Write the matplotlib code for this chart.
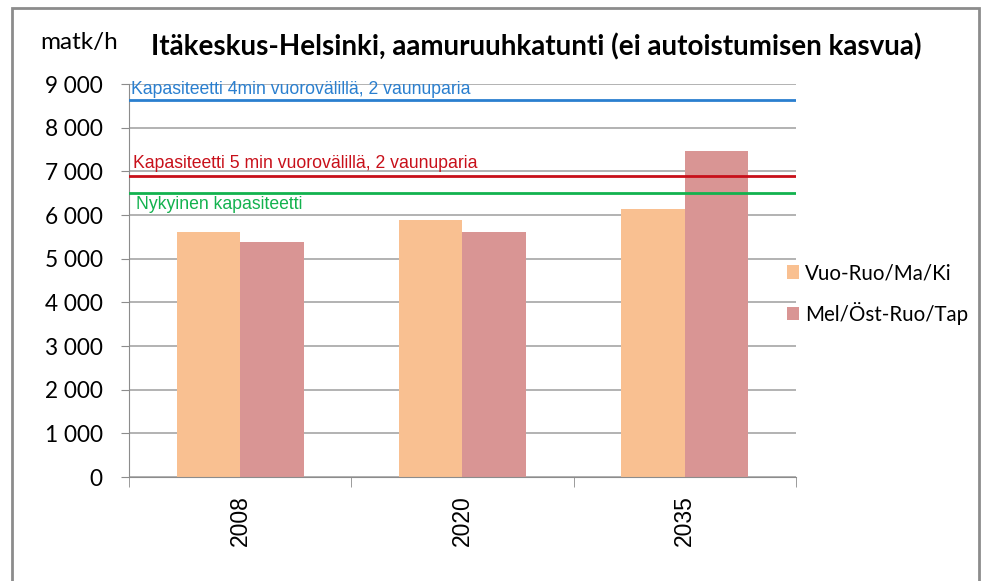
import matplotlib
matplotlib.use("Agg")
from matplotlib import pyplot as plt
from matplotlib.patches import Rectangle
import numpy as np

years = ["2008", "2020", "2035"]
vuo_ruo = [5610, 5880, 6140]
mel_ost = [5380, 5610, 7470]
series_names = ["Vuo-Ruo/Ma/Ki", "Mel/Öst-Ruo/Tap"]

cap_values = [8630, 6900, 6500]
cap_labels = ["Kapasiteetti 4min vuorovälillä, 2 vaunuparia",
              "Kapasiteetti 5 min vuorovälillä, 2 vaunuparia",
              "Nykyinen kapasiteetti"]
cap_colors = ["#2A7FCF", "#C8101A", "#12B24E"]

yticks = np.arange(0, 9001, 1000)
ytick_labels = ["0"] + ["{} 000".format(v // 1000) for v in yticks[1:]]

title = "Itäkeskus-Helsinki, aamuruuhkatunti (ei autoistumisen kasvua)"
ylabel = "matk/h"

calibri_like = ["Lato", "DejaVu Sans"]
arial_like = ["Liberation Sans", "DejaVu Sans"]

fig = plt.figure(figsize=(9.95, 5.81), dpi=100)
ax = fig.add_axes([0.1296, 0.179, 0.8 - 0.1296, 0.8554 - 0.179])

# outer frame like the excel chart area
fig.patches.append(Rectangle((0.012, -0.01), 0.984 - 0.012, 0.986 + 0.01,
                             transform=fig.transFigure, fill=False,
                             edgecolor="#8c8c8c", linewidth=2))

x = np.arange(len(years))
w = 0.286
ax.bar(x - w / 2, vuo_ruo, w, color="#F9C091", label=series_names[0], zorder=2)
ax.bar(x + w / 2, mel_ost, w, color="#D99594", label=series_names[1], zorder=2)

ax.set_xlim(-0.5, len(years) - 0.5)
ax.set_ylim(0, 9000)
ax.set_yticks(yticks)
ax.set_yticklabels(ytick_labels, family=calibri_like, fontsize=16.3)
ax.yaxis.grid(True, color="#a6a6a6", linewidth=1.2, zorder=0)
ax.set_axisbelow(True)

ax.set_xticks(x)
ax.set_xticklabels(years, rotation=90, family=arial_like, fontsize=16.5)
ax.set_xticks(np.arange(-0.5, len(years)), minor=True)
ax.tick_params(axis="x", which="major", length=0, pad=13)
ax.tick_params(axis="x", which="minor", length=7, color="#8c8c8c")
ax.tick_params(axis="y", length=6, color="#8c8c8c", pad=13)

for s in ["top", "right"]:
    ax.spines[s].set_visible(False)
for s in ["left", "bottom"]:
    ax.spines[s].set_color("#8c8c8c")

# capacity lines
offsets = [(-0.49, 40, "bottom"), (-0.48, 90, "bottom"), (-0.47, -60, "top")]
for val, lab, col, off in zip(cap_values, cap_labels, cap_colors, offsets):
    ax.axhline(val, color=col, linewidth=2, zorder=3)
    ax.text(off[0], val + off[1], lab, color=col, fontsize=12.7,
            family=arial_like, va=off[2], ha="left")

fig.text(0.539, 0.919, title, ha="center", va="center", fontsize=20,
         fontweight="bold", family=calibri_like)
fig.text(0.04, 0.927, ylabel, ha="left", va="center", fontsize=17.5, family=calibri_like)

ax.legend(loc="center left", bbox_to_anchor=(0.772, 0.494), bbox_transform=fig.transFigure,
          frameon=False, prop={"family": calibri_like, "size": 14.8},
          handlelength=0.6, handleheight=0.6, handletextpad=0.3, labelspacing=0.9)

plt.savefig("out.png", dpi=100)
